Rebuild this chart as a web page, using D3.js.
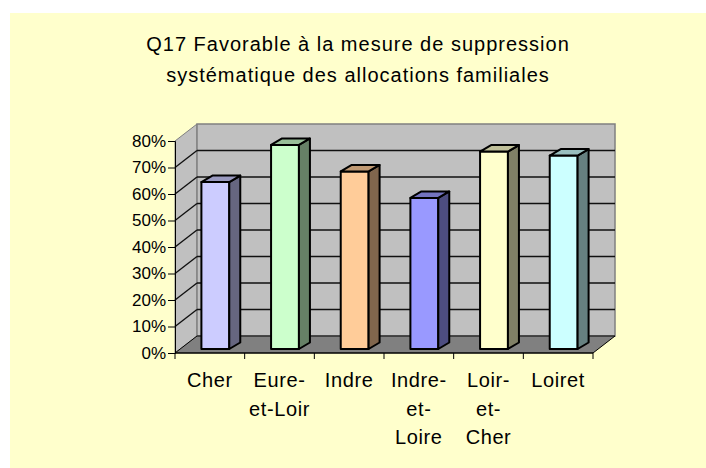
<!DOCTYPE html>
<html>
<head>
<meta charset="utf-8">
<script src="https://d3js.org/d3.v7.min.js"></script>
<style>
  body { margin: 0; background: #fff; }
  text { font-family: "Liberation Sans", Arial, sans-serif; fill: #000; }
</style>
</head>
<body>
<script>
// Chart data
var categories = ["Cher", "Eure-et-Loir", "Indre", "Indre-et-Loire", "Loir-et-Cher", "Loiret"];
var tickLabels = [["Cher"], ["Eure-", "et-Loir"], ["Indre"], ["Indre-", "et-", "Loire"], ["Loir-", "et-", "Cher"], ["Loiret"]];
var values = [0.63, 0.77, 0.67, 0.57, 0.745, 0.73];
var yTicks = [0, 0.1, 0.2, 0.3, 0.4, 0.5, 0.6, 0.7, 0.8];
var titleLines = ["Q17 Favorable à la mesure de suppression", "systématique des allocations familiales"];
var barColors = ["#ccccff", "#ccffcc", "#ffcc99", "#9999ff", "#ffffcc", "#ccffff"];

var width = 706, height = 468;
var plot = { left: 175, right: 593, bottom: 353, top: 141 };
var depth = { dx: 22, dy: -17 };       // floor / wall depth
var barOff = { dx: 5.5, dy: -4 };      // where bars start inside the floor
var barDepth = { dx: 11, dy: -6.5 };   // depth of each bar

var svg = d3.select("body").append("svg")
    .attr("width", width)
    .attr("height", height);

// chart area background
svg.append("rect")
    .attr("x", 10).attr("y", 13)
    .attr("width", width - 10).attr("height", height - 13)
    .attr("fill", "#ffffcc");

// Scales
var x = d3.scaleBand().domain(categories).range([plot.left, plot.right]);
var y = d3.scaleLinear().domain([0, 0.8]).range([plot.bottom, plot.top]);

function pts(a) { return a.map(function(p) { return p.join(","); }).join(" "); }

var y0 = y(0), yMax = y(0.8);
var L = plot.left, R = plot.right;

// left wall
svg.append("polygon")
    .attr("points", pts([[L, yMax], [L + depth.dx, yMax + depth.dy], [L + depth.dx, y0 + depth.dy], [L, y0]]))
    .attr("fill", "#c0c0c0").attr("stroke", "#808080").attr("stroke-width", 1);
// back wall
svg.append("polygon")
    .attr("points", pts([[L + depth.dx, yMax + depth.dy], [R + depth.dx, yMax + depth.dy], [R + depth.dx, y0 + depth.dy], [L + depth.dx, y0 + depth.dy]]))
    .attr("fill", "#c0c0c0").attr("stroke", "#808080").attr("stroke-width", 1.5);

// gridlines: left wall diagonals + back wall horizontals
var grid = svg.append("g").attr("stroke", "#111").attr("stroke-width", 1.4);
yTicks.forEach(function(t) {
    if (t === 0 || t === 0.8) return;
    grid.append("line")
        .attr("x1", L).attr("y1", y(t))
        .attr("x2", L + depth.dx).attr("y2", y(t) + depth.dy);
    grid.append("line")
        .attr("x1", L + depth.dx).attr("y1", y(t) + depth.dy)
        .attr("x2", R + depth.dx).attr("y2", y(t) + depth.dy);
});

// floor
svg.append("polygon")
    .attr("points", pts([[L, y0], [L + depth.dx, y0 + depth.dy], [R + depth.dx, y0 + depth.dy], [R, y0]]))
    .attr("fill", "#808080").attr("stroke", "#000").attr("stroke-width", 1);

// Y axis
var yAxis = svg.append("g")
    .attr("transform", "translate(" + L + ",0)")
    .call(d3.axisLeft(y).tickValues(yTicks).tickFormat(d3.format(".0%")).tickSize(7).tickPadding(2));
yAxis.select(".domain").attr("stroke", "#000");
yAxis.selectAll(".tick line").attr("stroke", "#000");
yAxis.selectAll("text")
    .attr("font-size", 17)
    .attr("font-family", "Liberation Sans, Arial, sans-serif")
    .attr("fill", "#000");

// X axis (ticks only at band edges)
var xEdges = categories.map(function(c) { return x(c); }).concat([R]);
svg.append("line")
    .attr("x1", L).attr("y1", y0).attr("x2", R).attr("y2", y0)
    .attr("stroke", "#000");
svg.selectAll(".xtick")
    .data(xEdges)
    .enter().append("line")
    .attr("class", "xtick")
    .attr("x1", function(d) { return d; }).attr("x2", function(d) { return d; })
    .attr("y1", y0).attr("y2", y0 + 6)
    .attr("stroke", "#000");

// category labels
var labels = svg.selectAll(".xlabel")
    .data(categories)
    .enter().append("text")
    .attr("class", "xlabel")
    .attr("text-anchor", "middle")
    .attr("font-size", 20)
    .attr("letter-spacing", 0.6);
labels.each(function(c, i) {
    var t = d3.select(this);
    tickLabels[i].forEach(function(line, j) {
        t.append("tspan")
            .attr("x", x(c) + x.bandwidth() / 2)
            .attr("y", 387 + j * 28.5)
            .text(line);
    });
});

// Bars
var bw = x.bandwidth() * 0.4;
svg.selectAll(".bar")
    .data(categories)
    .enter().append("g")
    .attr("class", "bar")
    .each(function(c, i) {
        var g = d3.select(this);
        var col = d3.color(barColors[i]);
        var x0 = x(c) + (x.bandwidth() - bw) / 2 + barOff.dx;
        var x1 = x0 + bw;
        var yb = y0 + barOff.dy;
        var yt = y(values[i]) + barOff.dy;
        var ddx = barDepth.dx, ddy = barDepth.dy;
        var side = d3.rgb(col.r * 0.5, col.g * 0.5, col.b * 0.5);
        var top = d3.rgb(col.r * 0.75, col.g * 0.75, col.b * 0.75);
        g.append("polygon")
            .attr("points", pts([[x0, yt], [x1, yt], [x1, yb], [x0, yb]]))
            .attr("fill", col);
        g.append("polygon")
            .attr("points", pts([[x1, yt], [x1 + ddx, yt + ddy], [x1 + ddx, yb + ddy], [x1, yb]]))
            .attr("fill", side);
        g.append("polygon")
            .attr("points", pts([[x0, yt], [x0 + ddx, yt + ddy], [x1 + ddx, yt + ddy], [x1, yt]]))
            .attr("fill", top);
        g.selectAll("polygon")
            .attr("stroke", "#000").attr("stroke-width", 2).attr("stroke-linejoin", "round");
    });

// Title
var title = svg.append("text")
    .attr("text-anchor", "middle")
    .attr("font-size", 20)
    .attr("letter-spacing", 1);
titleLines.forEach(function(line, j) {
    title.append("tspan")
        .attr("x", 358)
        .attr("y", 51 + j * 31)
        .text(line);
});
</script>
</body>
</html>
